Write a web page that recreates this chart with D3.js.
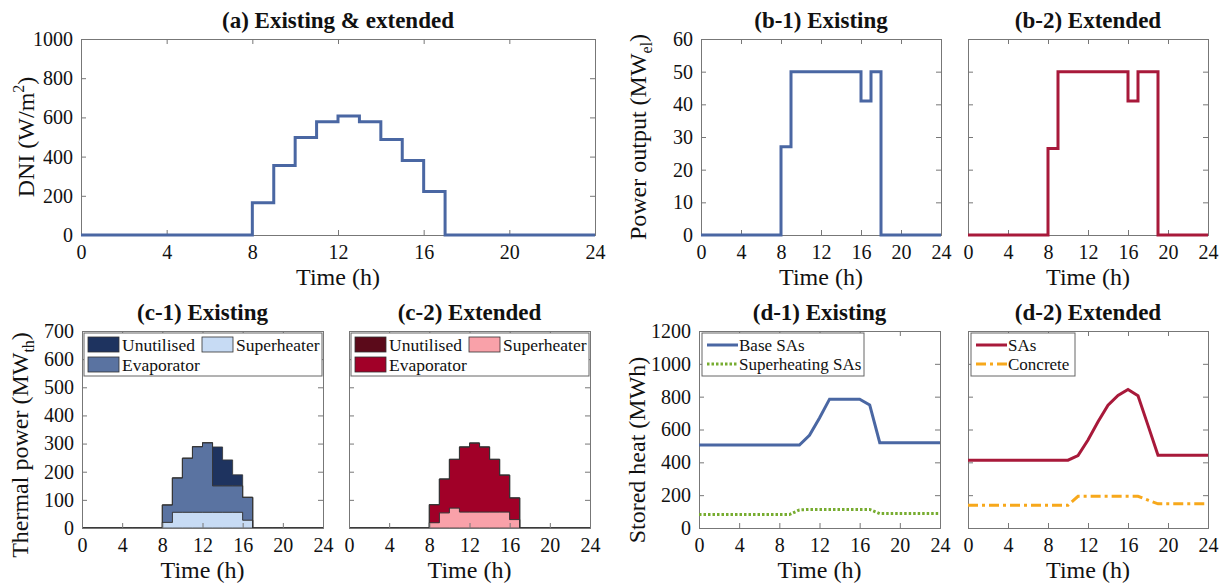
<!DOCTYPE html>
<html>
<head>
<meta charset="utf-8">
<script src="https://cdn.jsdelivr.net/npm/d3@7"></script>
<style>
  body { margin: 0; background: #fff; }
  svg text { font-family: "Liberation Serif", "Times New Roman", serif; fill: #111; }
</style>
</head>
<body>
<div id="chart"></div>
<script>
// ---- data (hourly values) ----
var hourTicks = [0, 4, 8, 12, 16, 20, 24];

// DNI (W/m2), value held over each hour 0..23
var dni = [0, 0, 0, 0, 0, 0, 0, 0, 165, 355, 497, 578, 607, 578, 487, 380, 222, 0, 0, 0, 0, 0, 0, 0];

// power output (MWel), hour 0..23
var powerExisting = [0, 0, 0, 0, 0, 0, 0, 0, 27, 50, 50, 50, 50, 50, 50, 50, 41, 50, 0, 0, 0, 0, 0, 0];
var powerExtended = [0, 0, 0, 0, 0, 0, 0, 0, 26.5, 50, 50, 50, 50, 50, 50, 50, 41, 50, 50, 0, 0, 0, 0, 0];

// thermal power (MWth), hour 0..23
var superExisting = [0, 0, 0, 0, 0, 0, 0, 0, 20, 56, 56, 56, 56, 56, 56, 56, 28, 0, 0, 0, 0, 0, 0, 0];
var evapExisting = [0, 0, 0, 0, 0, 0, 0, 0, 62, 122, 192, 233, 247, 94, 94, 94, 81, 0, 0, 0, 0, 0, 0, 0];
var unutilExisting = [0, 0, 0, 0, 0, 0, 0, 0, 0, 0, 0, 0, 0, 138, 92, 39, 0, 0, 0, 0, 0, 0, 0, 0];
var superExtended = [0, 0, 0, 0, 0, 0, 0, 0, 19, 54, 71, 57, 57, 57, 57, 57, 30, 0, 0, 0, 0, 0, 0, 0];
var evapExtended = [0, 0, 0, 0, 0, 0, 0, 0, 64, 120, 173, 231, 245, 231, 187, 131, 77, 0, 0, 0, 0, 0, 0, 0];
var unutilExtended = [0, 0, 0, 0, 0, 0, 0, 0, 0, 0, 0, 0, 0, 0, 0, 0, 0, 0, 0, 0, 0, 0, 0, 0];

// stored heat (MWh), at hours 0..24
var baseSAs = [505, 505, 505, 505, 505, 505, 505, 505, 505, 505, 505, 565, 670, 785, 785, 785, 785, 750, 520, 520, 520, 520, 520, 520, 520];
var superSAs = [82, 82, 82, 82, 82, 82, 82, 82, 82, 82, 110, 113, 113, 113, 113, 113, 113, 113, 88, 88, 88, 88, 88, 88, 88];
var extSAs = [413, 413, 413, 413, 413, 413, 413, 413, 413, 413, 413, 441, 536, 647, 748, 808, 844, 806, 625, 443, 443, 443, 443, 443, 443];
var concrete = [139, 139, 139, 139, 139, 139, 139, 139, 139, 139, 139, 193, 193, 193, 193, 193, 193, 193, 170, 147, 147, 147, 147, 147, 147];

var BLUE = "#4a67a3", RED = "#a8193a", GREEN = "#77ac30", ORANGE = "#f7a81b";
var blueStack = { unutil: "#1e335f", evap: "#5a73a1", sup: "#c7dbf4" };
var redStack = { unutil: "#5b0a1a", evap: "#a10028", sup: "#f9a1a9" };

var WIDTH = 1229, HEIGHT = 588;
var svg = d3.select("#chart").append("svg")
    .attr("width", WIDTH)
    .attr("height", HEIGHT);

// stepped series: repeat last value at hour 24
function stepPoints(vals) {
    var pts = vals.map(function (v, i) { return [i, v]; });
    pts.push([vals.length, vals[vals.length - 1]]);
    return pts;
}

// one MATLAB-like axes box
function makeAxes(opt) {
    var x = d3.scaleLinear().domain([0, 24]).range([opt.left, opt.right]);
    var y = d3.scaleLinear().domain([0, opt.ymax]).range([opt.bottom, opt.top]);
    var g = svg.append("g");

    var fs = 20;
    var bottomAxis = d3.axisBottom(x).tickValues(hourTicks).tickSize(-5).tickPadding(10);
    var ax = g.append("g").attr("transform", "translate(0," + opt.bottom + ")").call(bottomAxis);
    ax.selectAll("text").style("font-size", fs + "px");
    g.append("g").attr("transform", "translate(0," + opt.top + ")")
        .call(d3.axisTop(x).tickValues(hourTicks).tickSize(-5).tickFormat(""));

    var leftAxis = d3.axisLeft(y).tickValues(opt.yticks).tickSize(-5).tickPadding(8)
        .tickFormat(opt.ylabels ? d3.format("d") : "");
    var ay = g.append("g").attr("transform", "translate(" + opt.left + ",0)").call(leftAxis);
    ay.selectAll("text").style("font-size", fs + "px");
    g.append("g").attr("transform", "translate(" + opt.right + ",0)")
        .call(d3.axisRight(y).tickValues(opt.yticks).tickSize(-5).tickFormat(""));

    g.selectAll(".domain").attr("stroke", "#777");
    g.selectAll(".tick line").attr("stroke", "#777");

    // title
    g.append("text")
        .attr("x", (opt.left + opt.right) / 2)
        .attr("y", opt.top - 11)
        .attr("text-anchor", "middle")
        .style("font-size", "23px")
        .style("font-weight", "bold")
        .text(opt.title);

    // x label
    g.append("text")
        .attr("x", (opt.left + opt.right) / 2)
        .attr("y", opt.bottom + 50)
        .attr("text-anchor", "middle")
        .style("font-size", "24px")
        .text("Time (h)");

    return { g: g, x: x, y: y };
}

function yLabel(cx, cy, main, sub, sup) {
    var t = svg.append("text")
        .attr("transform", "translate(" + cx + "," + cy + ")rotate(-90)")
        .attr("text-anchor", "middle")
        .style("font-size", "24px");
    t.append("tspan").text(main);
    if (sub) {
        t.append("tspan").attr("dy", 6).style("font-size", "16px").text(sub);
        t.append("tspan").attr("dy", -6).text(")");
    } else if (sup) {
        t.append("tspan").attr("dy", -10).style("font-size", "16px").text(sup);
        t.append("tspan").attr("dy", 10).text(")");
    } else {
        t.append("tspan").text(")");
    }
}

function drawLine(a, pts, color, dash, curve) {
    a.g.append("path")
        .datum(pts)
        .attr("fill", "none")
        .attr("stroke", color)
        .attr("stroke-width", 3)
        .attr("stroke-dasharray", dash || null)
        .attr("d", d3.line()
            .x(function (d) { return a.x(d[0]); })
            .y(function (d) { return a.y(d[1]); })
            .curve(curve || d3.curveLinear));
}

// ---- (a) DNI ----
var pa = makeAxes({ left: 81, right: 595, top: 39, bottom: 235, ymax: 1000,
    yticks: [0, 200, 400, 600, 800, 1000], ylabels: true, title: "(a) Existing & extended" });
drawLine(pa, stepPoints(dni), BLUE, null, d3.curveStepAfter);
yLabel(34, 137, "DNI (W/m", null, "2");

// ---- (b) power output ----
var pb1 = makeAxes({ left: 701, right: 941, top: 39, bottom: 235, ymax: 60,
    yticks: [0, 10, 20, 30, 40, 50, 60], ylabels: true, title: "(b-1) Existing" });
drawLine(pb1, stepPoints(powerExisting), BLUE, null, d3.curveStepAfter);
var pb2 = makeAxes({ left: 968, right: 1208, top: 39, bottom: 235, ymax: 60,
    yticks: [0, 10, 20, 30, 40, 50, 60], ylabels: false, title: "(b-2) Extended" });
drawLine(pb2, stepPoints(powerExtended), RED, null, d3.curveStepAfter);
yLabel(646, 137, "Power output (MW", "el");

// ---- (c) thermal power, stacked ----
var keys = ["sup", "evap", "unutil"];
function stackPanel(opt, sup, evap, unutil, cols) {
    var a = makeAxes(opt);
    var rows = sup.map(function (v, i) { return { hour: i, sup: v, evap: evap[i], unutil: unutil[i] }; });
    rows.push(Object.assign({}, rows[rows.length - 1], { hour: rows.length }));
    var series = d3.stack().keys(keys)(rows);
    var area = d3.area()
        .x(function (d) { return a.x(d.data.hour); })
        .y0(function (d) { return a.y(d[0]); })
        .y1(function (d) { return a.y(d[1]); })
        .curve(d3.curveStepAfter);
    a.g.insert("g", ":first-child").selectAll("path")
        .data(series).enter().append("path")
        .attr("d", area)
        .attr("fill", function (d) { return cols[d.key]; })
        .attr("stroke", "#333")
        .attr("stroke-width", 0.8);

    // legend
    var lx = opt.left + 2, ly = opt.top + 2;
    var lg = a.g.append("g");
    lg.append("rect").attr("x", lx).attr("y", ly).attr("width", opt.right - opt.left - 3).attr("height", 43)
        .attr("fill", "#fff").attr("stroke", "#666").attr("stroke-width", 1);
    var items = [
        { key: "unutil", label: "Unutilised", dx: 4, dy: 4 },
        { key: "sup", label: "Superheater", dx: 118, dy: 4 },
        { key: "evap", label: "Evaporator", dx: 4, dy: 24 }
    ];
    items.forEach(function (it) {
        lg.append("rect").attr("x", lx + it.dx).attr("y", ly + it.dy).attr("width", 31).attr("height", 15)
            .attr("fill", cols[it.key]).attr("stroke", "#333").attr("stroke-width", 0.8);
        lg.append("text").attr("x", lx + it.dx + 34).attr("y", ly + it.dy + 14)
            .style("font-size", "17.5px").text(it.label);
    });
    return a;
}
stackPanel({ left: 82, right: 323, top: 331, bottom: 528, ymax: 700,
    yticks: [0, 100, 200, 300, 400, 500, 600, 700], ylabels: true, title: "(c-1) Existing" },
    superExisting, evapExisting, unutilExisting, blueStack);
stackPanel({ left: 349, right: 590, top: 331, bottom: 528, ymax: 700,
    yticks: [0, 100, 200, 300, 400, 500, 600, 700], ylabels: false, title: "(c-2) Extended" },
    superExtended, evapExtended, unutilExtended, redStack);
yLabel(28, 445, "Thermal power (MW", "th");

// ---- (d) stored heat ----
function linePoints(vals) { return vals.map(function (v, i) { return [i, v]; }); }
function lineLegend(a, w, entries) {
    var lx = a.x(0) + 3, ly = a.y.range()[1] + 2;
    var lg = a.g.append("g");
    lg.append("rect").attr("x", lx).attr("y", ly).attr("width", w).attr("height", 43)
        .attr("fill", "#fff").attr("stroke", "#666").attr("stroke-width", 1);
    entries.forEach(function (e, i) {
        var yy = ly + 12 + i * 19;
        lg.append("line").attr("x1", lx + 5).attr("x2", lx + 36).attr("y1", yy).attr("y2", yy)
            .attr("stroke", e.color).attr("stroke-width", 3).attr("stroke-dasharray", e.dash || null);
        lg.append("text").attr("x", lx + 37).attr("y", yy + 6).style("font-size", "17px").text(e.label);
    });
}
var pd1 = makeAxes({ left: 699, right: 940, top: 331, bottom: 528, ymax: 1200,
    yticks: [0, 200, 400, 600, 800, 1000, 1200], ylabels: true, title: "(d-1) Existing" });
drawLine(pd1, linePoints(baseSAs), BLUE);
drawLine(pd1, linePoints(superSAs), GREEN, "2.5,2");
lineLegend(pd1, 162, [
    { label: "Base SAs", color: BLUE },
    { label: "Superheating SAs", color: GREEN, dash: "2.5,2" }
]);
var pd2 = makeAxes({ left: 968, right: 1208, top: 331, bottom: 528, ymax: 1200,
    yticks: [0, 200, 400, 600, 800, 1000, 1200], ylabels: false, title: "(d-2) Extended" });
drawLine(pd2, linePoints(extSAs), RED);
drawLine(pd2, linePoints(concrete), ORANGE, "10,4,3,4");
lineLegend(pd2, 104, [
    { label: "SAs", color: RED },
    { label: "Concrete", color: ORANGE, dash: "10,4,3,4" }
]);
yLabel(645, 450, "Stored heat (MWh", null, null);
</script>
</body>
</html>
